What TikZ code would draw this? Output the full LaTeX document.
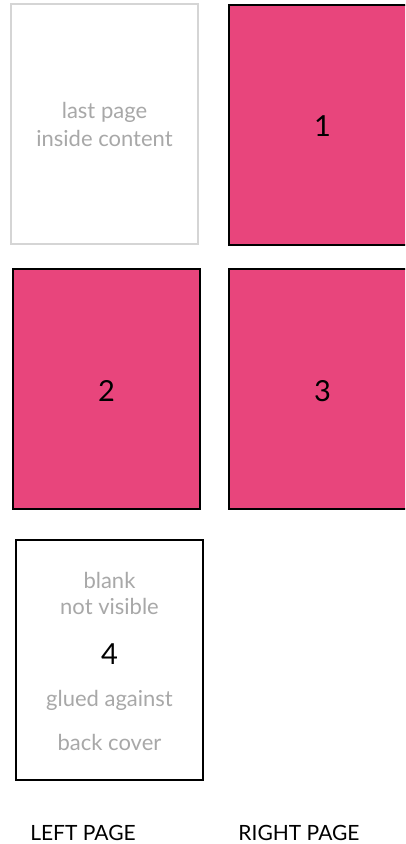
\documentclass[tikz,border=0pt]{standalone}
\usepackage{fontspec}
\setmainfont{Lato}
\definecolor{pagepink}{HTML}{E8457C}
\definecolor{lightline}{HTML}{D5D5D5}
\definecolor{notegray}{HTML}{A8A8A8}
\begin{document}
\begin{tikzpicture}[x=1pt, y=-1pt,
        page/.style={rectangle, draw=black, line width=2pt, minimum width=187pt, minimum height=240pt, inner sep=0pt},
        printed/.style={page, fill=pagepink},
        unused/.style={page, draw=lightline, fill=white},
        note/.style={font=\fontsize{22}{26}\selectfont, text=notegray},
        num/.style={font=\fontsize{29}{32}\selectfont},
        side/.style={font=\fontsize{21}{24}\selectfont}
    ]
        \clip (0,0) rectangle (405,844);

        % Spread 1
        \node[unused] (last) at (104.5, 124) {};
        \node[printed] (p1) at (322.5, 124.5) {};
        \node[note] (lasta) at (104.5, 112) {last page};
        \node[note] (lastb) at (104.5, 138) {inside content};
        \node[num] (n1) at (322.5, 126) {1};

        % Spread 2
        \node[printed] (p2) at (106.5, 389) {};
        \node[printed] (p3) at (322.5, 389) {};
        \node[num] (n2) at (106.5, 391) {2};
        \node[num] (n3) at (322.5, 391) {3};

        % Spread 3
        \node[page, fill=white] (p4) at (109.5, 660) {};
        \node[note] (blank) at (109.5, 580) {blank};
        \node[note] (hidden) at (109.5, 606) {not visible};
        \node[num] (n4) at (109.5, 654) {4};
        \node[note] (glued) at (109.5, 700) {glued against};
        \node[note] (cover) at (109.5, 742) {back cover};

        \node[side] (leftside) at (83, 833) {LEFT PAGE};
        \node[side] (rightside) at (299, 833) {RIGHT PAGE};
    \end{tikzpicture}
\end{document}
